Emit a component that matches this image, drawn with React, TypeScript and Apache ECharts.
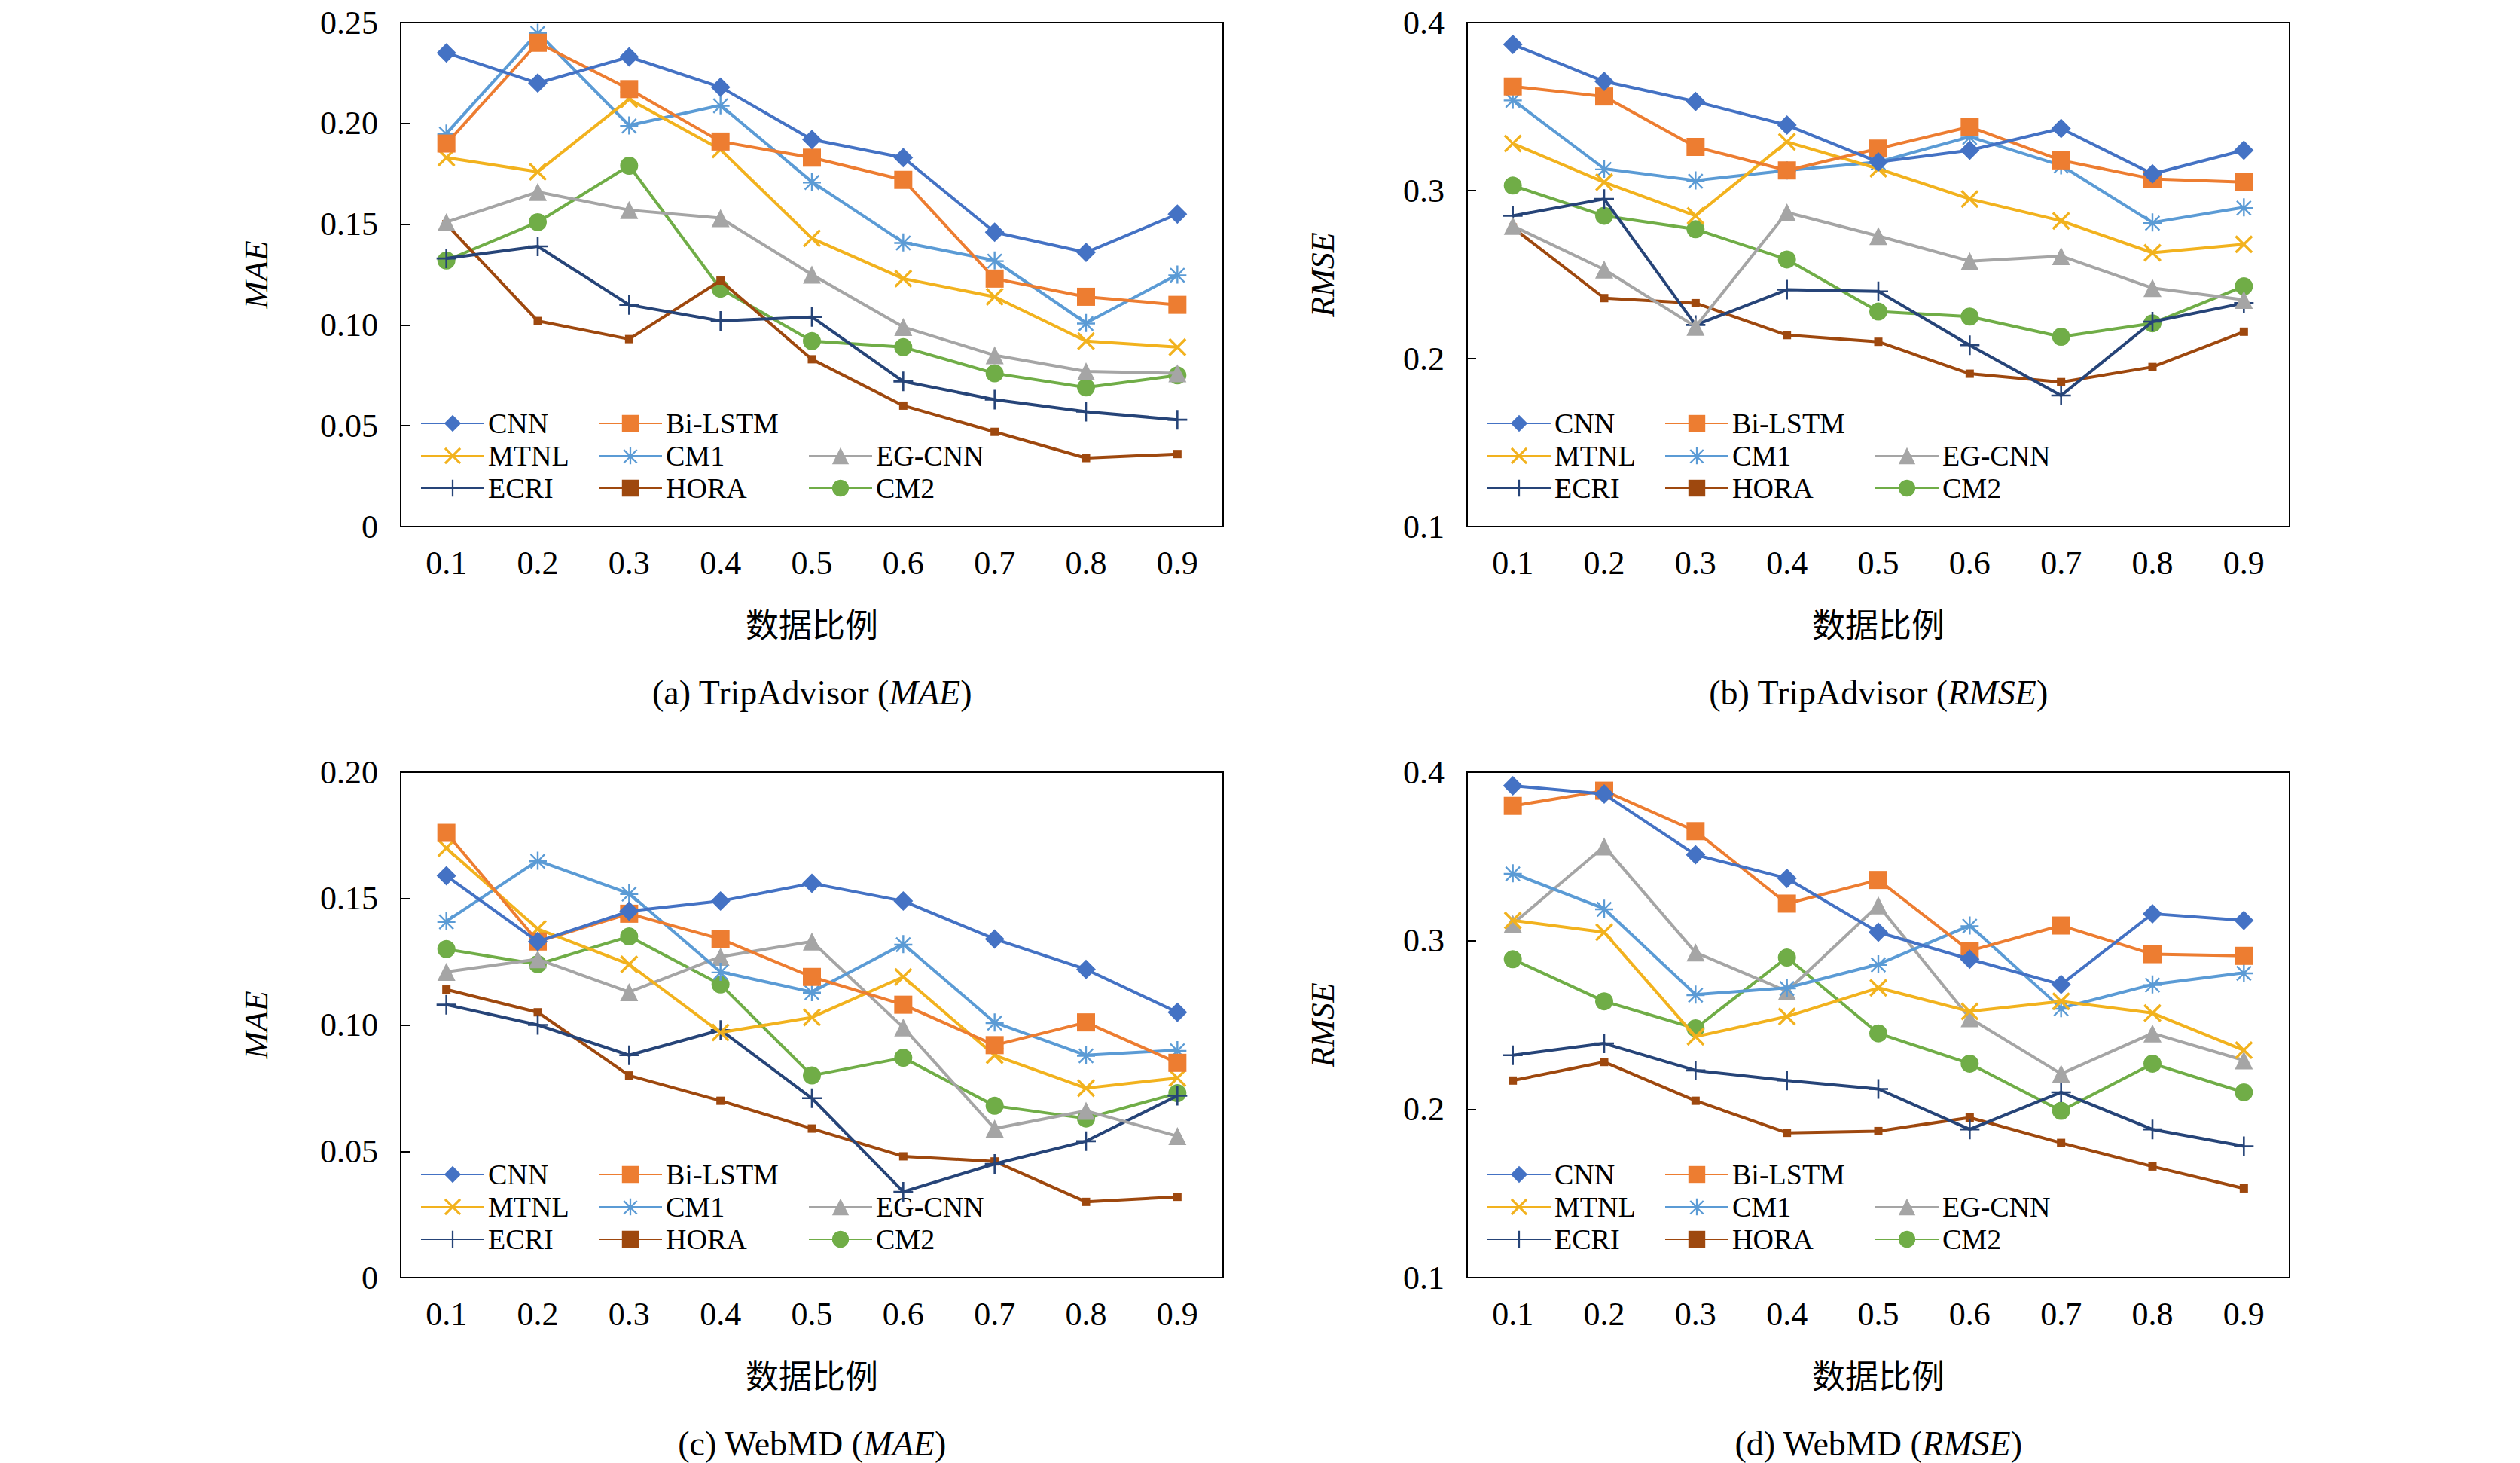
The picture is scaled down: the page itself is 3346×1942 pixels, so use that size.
import React, { useEffect, useRef } from 'react';
import * as echarts from 'echarts';

const ratios = ['0.1', '0.2', '0.3', '0.4', '0.5', '0.6', '0.7', '0.8', '0.9'];
const methods = ['CNN', 'Bi-LSTM', 'MTNL', 'CM1', 'EG-CNN', 'ECRI', 'HORA', 'CM2'];

// (a) TripAdvisor MAE
const tripMae = [
    [0.235, 0.220, 0.233, 0.218, 0.192, 0.183, 0.146, 0.136, 0.155],
    [0.190, 0.240, 0.217, 0.191, 0.183, 0.172, 0.123, 0.114, 0.110],
    [0.183, 0.176, 0.212, 0.187, 0.143, 0.123, 0.114, 0.092, 0.089],
    [0.195, 0.245, 0.199, 0.209, 0.171, 0.141, 0.132, 0.101, 0.125],
    [0.151, 0.166, 0.157, 0.153, 0.125, 0.099, 0.085, 0.077, 0.076],
    [0.133, 0.139, 0.110, 0.102, 0.104, 0.072, 0.063, 0.057, 0.053],
    [0.150, 0.102, 0.093, 0.122, 0.083, 0.060, 0.047, 0.034, 0.036],
    [0.132, 0.151, 0.179, 0.118, 0.092, 0.089, 0.076, 0.069, 0.075],
];
// (b) TripAdvisor RMSE
const tripRmse = [
    [0.387, 0.365, 0.353, 0.339, 0.317, 0.324, 0.337, 0.310, 0.324],
    [0.362, 0.356, 0.326, 0.312, 0.325, 0.338, 0.318, 0.307, 0.305],
    [0.328, 0.305, 0.285, 0.329, 0.313, 0.295, 0.282, 0.263, 0.268],
    [0.354, 0.313, 0.306, 0.312, 0.317, 0.332, 0.315, 0.281, 0.290],
    [0.279, 0.253, 0.219, 0.287, 0.273, 0.258, 0.261, 0.242, 0.235],
    [0.285, 0.295, 0.220, 0.241, 0.240, 0.208, 0.178, 0.222, 0.233],
    [0.278, 0.236, 0.233, 0.214, 0.210, 0.191, 0.186, 0.195, 0.216],
    [0.303, 0.285, 0.277, 0.259, 0.228, 0.225, 0.213, 0.221, 0.243],
];
// (c) WebMD MAE
const webMae = [
    [0.159, 0.133, 0.145, 0.149, 0.156, 0.149, 0.134, 0.122, 0.105],
    [0.176, 0.133, 0.144, 0.134, 0.119, 0.108, 0.092, 0.101, 0.085],
    [0.170, 0.138, 0.124, 0.097, 0.103, 0.119, 0.088, 0.075, 0.079],
    [0.141, 0.165, 0.152, 0.121, 0.113, 0.132, 0.101, 0.088, 0.090],
    [0.121, 0.126, 0.113, 0.127, 0.133, 0.099, 0.059, 0.066, 0.056],
    [0.108, 0.100, 0.088, 0.098, 0.071, 0.034, 0.045, 0.054, 0.072],
    [0.114, 0.105, 0.080, 0.070, 0.059, 0.048, 0.046, 0.030, 0.032],
    [0.130, 0.124, 0.135, 0.116, 0.080, 0.087, 0.068, 0.063, 0.073],
];
// (d) WebMD RMSE
const webRmse = [
    [0.392, 0.387, 0.351, 0.337, 0.305, 0.289, 0.274, 0.316, 0.312],
    [0.380, 0.389, 0.365, 0.322, 0.336, 0.294, 0.309, 0.292, 0.291],
    [0.312, 0.305, 0.243, 0.255, 0.272, 0.258, 0.264, 0.257, 0.235],
    [0.340, 0.319, 0.268, 0.272, 0.286, 0.309, 0.260, 0.274, 0.281],
    [0.310, 0.356, 0.293, 0.270, 0.321, 0.254, 0.221, 0.245, 0.229],
    [0.232, 0.239, 0.223, 0.217, 0.212, 0.188, 0.210, 0.188, 0.178],
    [0.217, 0.228, 0.205, 0.186, 0.187, 0.195, 0.180, 0.166, 0.153],
    [0.289, 0.264, 0.248, 0.290, 0.245, 0.227, 0.199, 0.227, 0.210],
];

const colors = ['#4472C4', '#ED7D31', '#F2B21E', '#5B9BD5', '#A5A5A5', '#264478', '#9E480E', '#70AD47'];
const X_PATH = 'path://M2,0L10,8L18,0L20,2L12,10L20,18L18,20L10,12L2,20L0,18L8,10L0,2Z';
const STAR_PATH = 'path://M9,0H11V8.3L17.1,2.2L18.5,3.6L12.4,9.7H20V11.7H12.4L18.5,17.8L17.1,19.2L11,13.1V20H9V13.1L2.9,19.2L1.5,17.8L7.6,11.7H0V9.7H7.6L1.5,3.6L2.9,2.2L9,8.3Z';
const PLUS_PATH = 'path://M9,0H11V9H20V11H11V20H9V11H0V9H9Z';
const symbols = ['diamond', 'rect', X_PATH, STAR_PATH, 'triangle', PLUS_PATH, 'rect', 'circle'];
const symbolSizes = [26, 24, 24, 24, 24, 26, 11, 24];

const FONT = '"Liberation Serif", "Times New Roman", serif';
const CJK = '"Noto Sans CJK SC", sans-serif';

const panels = [
    { data: tripMae, left: 524, top: 20, name: 'MAE', min: 0, max: 0.25, step: 0.05, caption: 'TripAdvisor', metric: 'MAE' },
    { data: tripRmse, left: 1940, top: 20, name: 'RMSE', min: 0.1, max: 0.4, step: 0.1, caption: 'TripAdvisor', metric: 'RMSE' },
    { data: webMae, left: 524, top: 1017, name: 'MAE', min: 0, max: 0.2, step: 0.05, caption: 'WebMD', metric: 'MAE' },
    { data: webRmse, left: 1940, top: 1017, name: 'RMSE', min: 0.1, max: 0.4, step: 0.1, caption: 'WebMD', metric: 'RMSE' },
];
const letters = ['a', 'b', 'c', 'd'];
const W = 1092;
const H = 671;

// legend layout: [column, row] for each method
const legendPos = [[0, 0], [1, 0], [0, 1], [1, 1], [2, 1], [0, 2], [1, 2], [2, 2]];
const colX = [21, 257, 536];
const rowY = [524, 567, 610];

export default function App() {
    const chartRef = useRef<HTMLDivElement | null>(null);

    useEffect(() => {
        if (!chartRef.current) return;
        const chart = echarts.init(chartRef.current, null, { renderer: 'svg' });

        const grid: any[] = [];
        const xAxis: any[] = [];
        const yAxis: any[] = [];
        const series: any[] = [];
        const legend: any[] = [];
        const graphic: any[] = [];

        panels.forEach((p, pi) => {
            grid.push({
                left: p.left, top: p.top, width: W, height: H,
                show: true, borderColor: '#000', borderWidth: 2, backgroundColor: 'transparent',
            });
            xAxis.push({
                type: 'category', gridIndex: pi, data: ratios,
                axisLine: { lineStyle: { color: '#000', width: 2 } },
                axisTick: { alignWithLabel: true, inside: true, length: 12, lineStyle: { color: '#000', width: 2 } },
                axisLabel: { color: '#000', fontSize: 44, fontFamily: FONT, margin: 26 },
                name: '数据比例', nameLocation: 'middle', nameGap: 106,
                nameTextStyle: { color: '#000', fontSize: 44, fontFamily: CJK },
            });
            yAxis.push({
                type: 'value', gridIndex: pi, min: p.min, max: p.max, interval: p.step,
                axisLine: { show: true, lineStyle: { color: '#000', width: 2 } },
                axisTick: { show: true, inside: true, length: 12, lineStyle: { color: '#000', width: 2 } },
                splitLine: { show: false },
                axisLabel: {
                    color: '#000', fontSize: 44, fontFamily: FONT, margin: 30,
                    formatter: (v: number) => (v === 0 ? '0' : v.toFixed(p.step < 0.1 ? 2 : 1)),
                },
                name: p.name, nameLocation: 'middle', nameGap: 170, nameRotate: 90,
                nameTextStyle: { color: '#000', fontSize: 44, fontFamily: FONT, fontStyle: 'italic' },
            });
            methods.forEach((m, mi) => {
                series.push({
                    name: m, type: 'line', xAxisIndex: pi, yAxisIndex: pi,
                    data: p.data[mi],
                    symbol: symbols[mi], symbolSize: symbolSizes[mi],
                    lineStyle: { color: colors[mi], width: 4 },
                    itemStyle: { color: colors[mi] },
                    z: 10 - mi,
                });
                const [c, r] = legendPos[mi];
                legend.push({
                    data: [m],
                    left: p.left + colX[c], top: p.top + rowY[r] - 14,
                    itemWidth: 84, itemHeight: 28, itemGap: 10,
                    textStyle: { color: '#000', fontSize: 38, fontFamily: FONT },
                    selectedMode: false,
                });
            });
            graphic.push({
                type: 'text', x: p.left + W / 2, y: p.top + H + 220,
                style: {
                    text: `(${letters[pi]}) ${p.caption} ({i|${p.metric}})`,
                    font: `46px ${FONT}`, fill: '#000',
                    align: 'center', verticalAlign: 'middle',
                    rich: { i: { fontStyle: 'italic', fontSize: 46, fontFamily: FONT } },
                },
            });
        });

        chart.setOption({
            animation: false,
            backgroundColor: '#fff',
            grid, xAxis, yAxis, series, legend, graphic,
        });

        return () => chart.dispose();
    }, []);

    return <div ref={chartRef} style={{ width: '3330px', height: '1934px' }} />;
}
